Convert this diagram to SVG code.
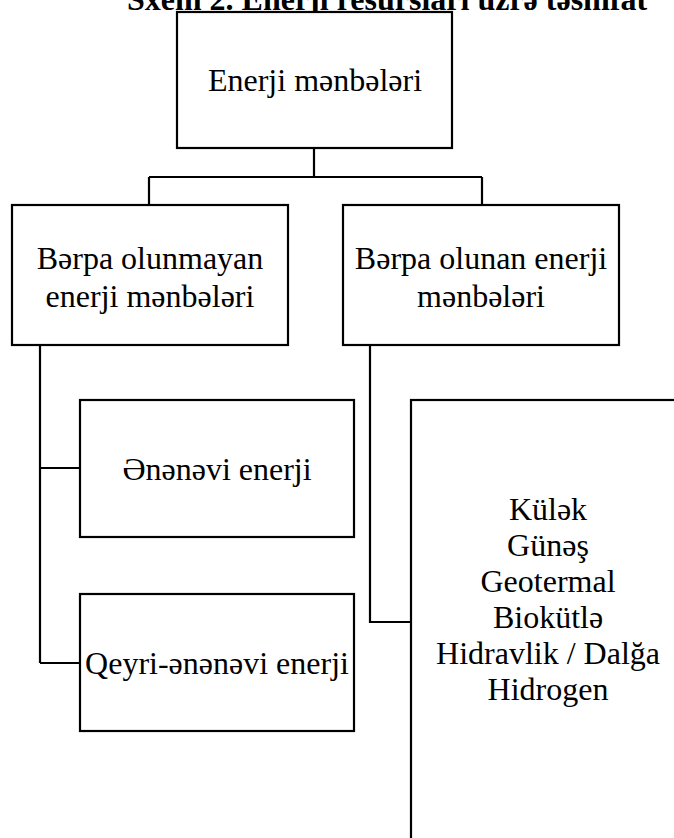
<svg xmlns="http://www.w3.org/2000/svg" width="674" height="838" viewBox="0 0 674 838">
<style>
.box{fill:#fff;stroke:#000;stroke-width:2.2}
.wire{fill:none;stroke:#000;stroke-width:2.2}
text{font-family:"Liberation Serif","Times New Roman",serif;font-size:32px;fill:#000;text-anchor:middle}
.title{font-weight:bold;font-size:32px}
</style>
<rect width="674" height="838" fill="#fff"/>
<text class="title" x="387" y="10">Sxem 2. Enerji resursları üzrə təsnifat</text>
<g id="connectors">
<path class="wire" d="M314,148 V177 M149,177 H482 M149,177 V205 M482,177 V205"/>
<path class="wire" d="M40,345 V663 M40,468 H80 M40,663 H80"/>
<path class="wire" d="M370,345 V622 H411"/>
</g>
<g id="n-root">
<rect class="box" x="177" y="12" width="275" height="136"/>
<text x="315" y="91">Enerji mənbələri</text>
</g>
<g id="n-nonrenew">
<rect class="box" x="12" y="205" width="276" height="140"/>
<text x="150" y="269">Bərpa olunmayan</text>
<text x="150" y="307">enerji mənbələri</text>
</g>
<g id="n-renew">
<rect class="box" x="343" y="205" width="276" height="140"/>
<text x="481" y="269">Bərpa olunan enerji</text>
<text x="481" y="307">mənbələri</text>
</g>
<g id="n-trad">
<rect class="box" x="80" y="400" width="274" height="137"/>
<text x="217" y="480">Ənənəvi enerji</text>
</g>
<g id="n-nontrad">
<rect class="box" x="80" y="594" width="274" height="137"/>
<text x="217" y="674">Qeyri-ənənəvi enerji</text>
</g>
<g id="n-list">
<rect class="box" x="411" y="400" width="290" height="470"/>
<text x="548" y="520">Külək</text>
<text x="548" y="556">Günəş</text>
<text x="548" y="592">Geotermal</text>
<text x="548" y="628">Biokütlə</text>
<text x="548" y="664">Hidravlik / Dalğa</text>
<text x="548" y="700">Hidrogen</text>
</g>
</svg>
